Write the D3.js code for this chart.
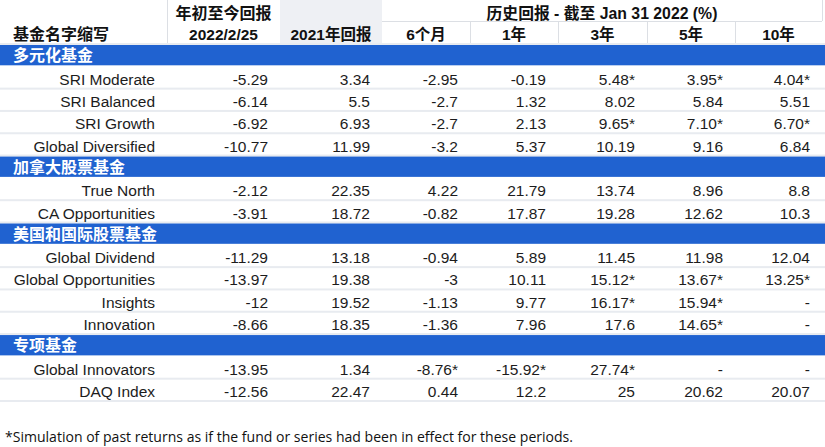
<!DOCTYPE html>
<html><head><meta charset="utf-8">
<script src="https://cdn.jsdelivr.net/npm/d3@7"></script>
<style>
html,body{margin:0;padding:0;background:#fff;}
svg{display:block;}
</style></head>
<body>
<svg id="chart" width="825" height="447"></svg>
<script>
// ---------- data ----------
const columnKeys = ["ytd", "y2021", "m6", "y1", "y3", "y5", "y10"];
const periodHeaders = ["6个月", "1年", "3年", "5年", "10年"];
const groupTitle = "历史回报 - 截至 Jan 31 2022 (%)";
const nameHeader = "基金名字缩写";
const ytdHeader = ["年初至今回报", "2022/2/25"];
const y2021Header = "2021年回报";

const sections = ["多元化基金", "加拿大股票基金", "美国和国际股票基金", "专项基金"];
const sectionFunds = [
  ["SRI Moderate", "SRI Balanced", "SRI Growth", "Global Diversified"],
  ["True North", "CA Opportunities"],
  ["Global Dividend", "Global Opportunities", "Insights", "Innovation"],
  ["Global Innovators", "DAQ Index"]
];
const ytdValues   = ["-5.29","-6.14","-6.92","-10.77","-2.12","-3.91","-11.29","-13.97","-12","-8.66","-13.95","-12.56"];
const y2021Values = ["3.34","5.5","6.93","11.99","22.35","18.72","13.18","19.38","19.52","18.35","1.34","22.47"];
const m6Values    = ["-2.95","-2.7","-2.7","-3.2","4.22","-0.82","-0.94","-3","-1.13","-1.36","-8.76*","0.44"];
const y1Values    = ["-0.19","1.32","2.13","5.37","21.79","17.87","5.89","10.11","9.77","7.96","-15.92*","12.2"];
const y3Values    = ["5.48*","8.02","9.65*","10.19","13.74","19.28","11.45","15.12*","16.17*","17.6","27.74*","25"];
const y5Values    = ["3.95*","5.84","7.10*","9.16","8.96","12.62","11.98","13.67*","15.94*","14.65*","-","20.62"];
const y10Values   = ["4.04*","5.51","6.70*","6.84","8.8","10.3","12.04","13.25*","-","-","-","20.07"];
const footnote = "*Simulation of past returns as if the fund or series had been in effect for these periods.";

// ---------- build rows ----------
const valueCols = [ytdValues, y2021Values, m6Values, y1Values, y3Values, y5Values, y10Values];
const rows = [];
let fi = 0;
sections.forEach((s, si) => {
  rows.push({type: "section", label: s});
  sectionFunds[si].forEach(name => {
    rows.push({type: "fund", label: name, values: valueCols.map(c => c[fi])});
    fi++;
  });
});

// ---------- layout ----------
const W = 825;
const headerH = 45, tableBottom = 402;
const colEdges = [0, 167, 280, 382, 470, 558, 647, 735, 822];
const colX = d3.scaleOrdinal().domain(["name"].concat(columnKeys)).range(colEdges.slice(0, 8));
const colRight = d3.scaleOrdinal().domain(["name"].concat(columnKeys)).range(colEdges.slice(1));
const y = d3.scaleBand().domain(d3.range(rows.length)).range([headerH, tableBottom]).padding(0);

const svg = d3.select("#chart");
const font = "'Liberation Sans', Arial, 'Noto Sans CJK SC', sans-serif";
const cjkFont = "'Liberation Sans', Arial, 'Noto Sans CJK SC', sans-serif";
const lineC = "#dcdfe4", sepC = "#e8ebf0", blue = "#2062d0";

// header
const hdr = svg.append("g");
hdr.append("rect").attr("x", colX("y2021")).attr("y", 0).attr("width", colRight("y2021") - colX("y2021")).attr("height", headerH - 2).attr("fill", "#eef0f4");
hdr.append("line").attr("x1", colX("ytd") + 0.5).attr("x2", colX("ytd") + 0.5).attr("y1", 0).attr("y2", headerH - 2).attr("stroke", lineC);
hdr.append("line").attr("x1", colX("m6")).attr("x2", colEdges[8]).attr("y1", 21.5).attr("y2", 21.5).attr("stroke", lineC);
hdr.append("line").attr("x1", colEdges[8] + 0.5).attr("x2", colEdges[8] + 0.5).attr("y1", 0).attr("y2", 21).attr("stroke", lineC);
columnKeys.slice(3).forEach(k => {
  hdr.append("line").attr("x1", colX(k) + 0.5).attr("x2", colX(k) + 0.5).attr("y1", 22).attr("y2", headerH - 2).attr("stroke", lineC);
});
hdr.append("line").attr("x1", 0).attr("x2", W).attr("y1", headerH - 1).attr("y2", headerH - 1).attr("stroke", sepC).attr("stroke-width", 2);

const hText = (x, yy, t, anchor, size) => hdr.append("text").attr("x", x).attr("y", yy).attr("text-anchor", anchor || "middle")
  .attr("font-family", cjkFont).attr("font-weight", "bold").attr("font-size", size || 15.5).attr("fill", "#111").text(t);
hText(13, 40, nameHeader, "start", 16);
hText((colX("ytd") + colRight("ytd")) / 2, 19, ytdHeader[0], "middle", 16);
hText((colX("ytd") + colRight("ytd")) / 2, 40, ytdHeader[1]);
hText((colX("y2021") + colRight("y2021")) / 2, 40, y2021Header);
hText((colX("m6") + colEdges[8]) / 2, 19, groupTitle, "middle", 15.8);
periodHeaders.forEach((t, i) => {
  const k = columnKeys[i + 2];
  hText((colX(k) + colRight(k)) / 2, 40, t);
});

// body rows
const rowG = svg.append("g").selectAll("g").data(rows).join("g")
  .attr("transform", (d, i) => `translate(0,${y(i)})`);
const bh = y.bandwidth();

rowG.filter(d => d.type === "section").append("rect")
  .attr("x", 0).attr("y", 0).attr("width", W).attr("height", bh - 2).attr("fill", blue);
rowG.filter(d => d.type === "section").append("text")
  .attr("x", 13).attr("y", bh / 2 + 5)
  .attr("font-family", cjkFont).attr("font-weight", "bold").attr("font-size", 16).attr("fill", "#fff")
  .text(d => d.label);

rowG.filter(d => d.type === "fund").append("rect")
  .attr("x", 0).attr("y", bh - 2).attr("width", W).attr("height", 2).attr("fill", sepC);

rowG.filter(d => d.type === "fund").append("text")
  .attr("x", 155).attr("y", bh / 2 + 6.2).attr("text-anchor", "end")
  .attr("font-family", font).attr("font-size", 15.5).attr("fill", "#1c1c1c")
  .text(d => d.label);

rowG.filter(d => d.type === "fund").selectAll("text.v")
  .data(d => d.values.map((v, i) => ({v, k: columnKeys[i]})))
  .join("text").attr("class", "v")
  .attr("x", d => colRight(d.k) - 12).attr("y", bh / 2 + 6.2).attr("text-anchor", "end")
  .attr("font-family", font).attr("font-size", 15.5).attr("fill", "#1c1c1c")
  .text(d => d.v);

// footnote
svg.append("text").attr("x", 5).attr("y", 442)
  .attr("font-family", "'Open Sans', 'Noto Sans', sans-serif").attr("font-size", 14).attr("fill", "#111")
  .attr("textLength", 568).attr("lengthAdjust", "spacingAndGlyphs")
  .text(footnote);
</script>
</body></html>
